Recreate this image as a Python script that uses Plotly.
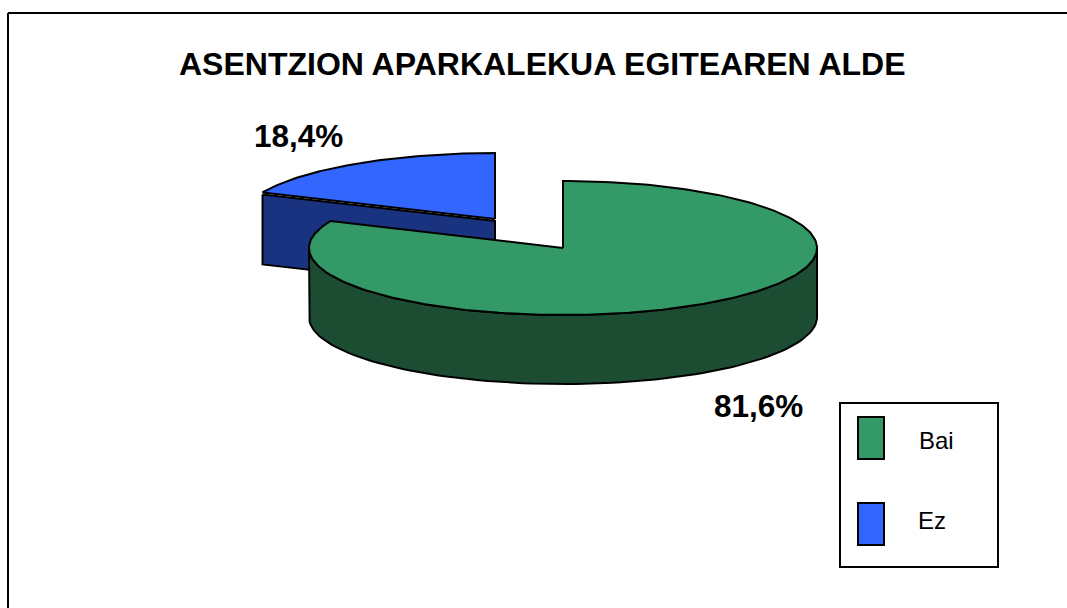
import numpy as np
import plotly.graph_objects as go

title = "ASENTZION APARKALEKUA EGITEAREN ALDE"
categories = ["Bai", "Ez"]
values = [81.6, 18.4]
labels = ["81,6%", "18,4%"]
top_colors = ["#339966", "#3366FF"]
side_colors = ["#1C4D33", "#1A3380"]

# Pie geometry (pixel-like data units)
RX = 254
RYS = [67, 66]
DEPTHS = [69, 72]
CENTERS = [(563, 248), (495, 219)]
FONT = "Liberation Sans, Arial, sans-serif"


def rim(cx, cy, ry, a0, a1, n=90):
    t = np.radians(np.linspace(a0, a1, n))
    return cx + RX * np.sin(t), cy - ry * np.cos(t)


a_split = 360 * values[0] / sum(values)
fig = go.Figure()


def poly(x, y, fill, name):
    fig.add_trace(go.Scatter(x=list(x), y=list(y), mode="lines", fill="toself",
                             fillcolor=fill, name=name, hoverinfo="name",
                             line=dict(color="black", width=2), showlegend=False))


# Ez slice (exploded): flat cut wall, then top
cx, cy = CENTERS[1]
lx, ly = rim(cx, cy, RYS[1], a_split, 360)
d = DEPTHS[1]
poly([lx[0], cx, cx, lx[0], lx[0]],
     [ly[0] + 2, cy + 2, cy + d, ly[0] + d, ly[0] + 2], side_colors[1], categories[1])
poly(np.r_[cx, lx, cx], np.r_[cy, ly, cy], top_colors[1], categories[1])

# Bai slice: outer wall, then top
cx, cy = CENTERS[0]
d = DEPTHS[0]
wx, wy = rim(cx, cy, RYS[0], 90, 270)
poly(np.r_[wx, wx[::-1], wx[0]], np.r_[wy, wy[::-1] + d, wy[0]], side_colors[0], categories[0])
gx, gy = rim(cx, cy, RYS[0], 0, a_split, 220)
poly(np.r_[cx, gx, cx], np.r_[cy, gy, cy], top_colors[0], categories[0])

shapes = [
    dict(type="line", x0=8, y0=13, x1=1067, y1=13, line=dict(color="black", width=2)),
    dict(type="line", x0=8, y0=13, x1=8, y1=608, line=dict(color="black", width=2)),
    dict(type="rect", x0=840, y0=403, x1=998, y1=567, line=dict(color="black", width=2)),
]
for (y0, y1), c in zip([(417, 459), (503, 545)], top_colors):
    shapes.append(dict(type="rect", x0=858, y0=y0, x1=884, y1=y1, fillcolor=c,
                       line=dict(color="black", width=2)))


def note(x, y, text, size, bold=True):
    return dict(x=x, y=y, text=f"<b>{text}</b>" if bold else text, showarrow=False,
                font=dict(family=FONT, size=size, color="black"),
                xanchor="center", yanchor="middle")


annotations = [
    note(542, 64, title, 32),
    note(298, 136, labels[1], 31.5),
    note(758, 406, labels[0], 31.5),
    note(936, 440, categories[0], 24, False),
    note(932, 520, categories[1], 24, False),
]

fig.update_layout(
    width=1067, height=608, margin=dict(l=0, r=0, t=0, b=0),
    paper_bgcolor="white", plot_bgcolor="white", showlegend=False,
    xaxis=dict(range=[0, 1067], visible=False, fixedrange=True),
    yaxis=dict(range=[608, 0], visible=False, fixedrange=True),
    shapes=shapes, annotations=annotations,
)
fig.write_html("out.html", config={"displayModeBar": False},
               post_script="document.body.style.margin='0';document.body.style.overflow='hidden';")
